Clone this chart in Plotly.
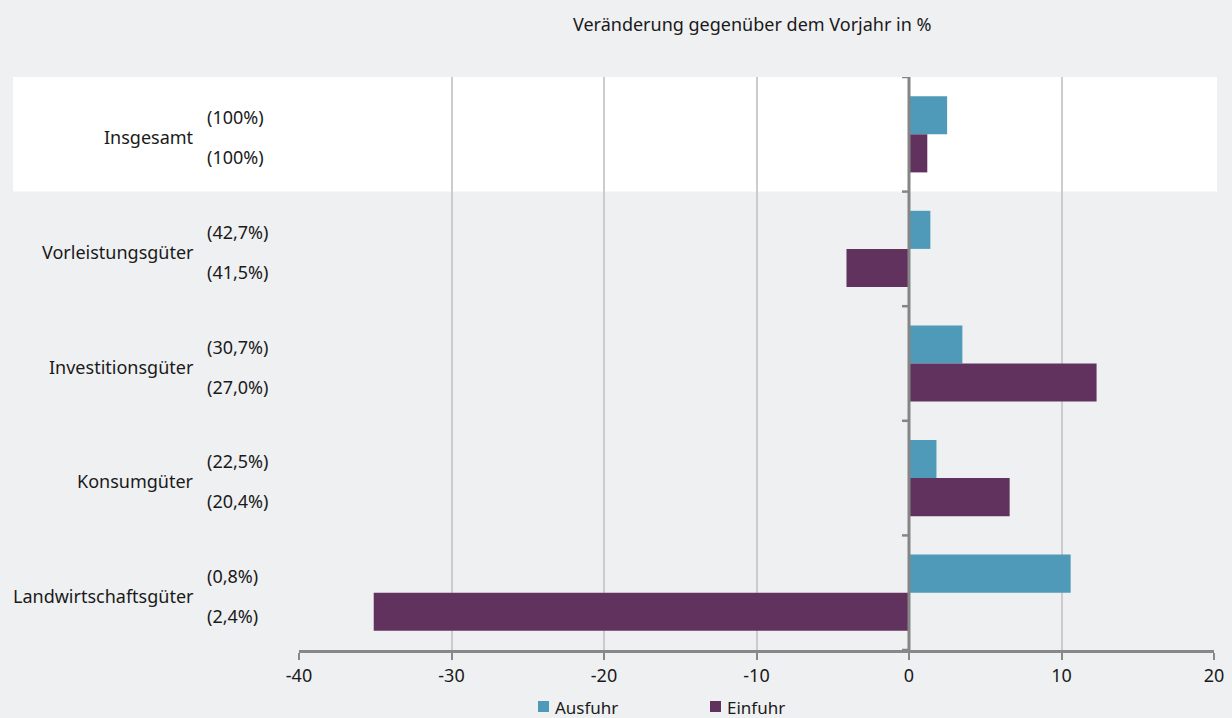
import plotly.graph_objects as go

categories = ["Insgesamt", "Vorleistungsgüter", "Investitionsgüter", "Konsumgüter", "Landwirtschaftsgüter"]
ausfuhr = [2.5, 1.4, 3.5, 1.8, 10.6]
einfuhr = [1.2, -4.1, 12.3, 6.6, -35.1]
anteil_ausfuhr = ["(100%)", "(42,7%)", "(30,7%)", "(22,5%)", "(0,8%)"]
anteil_einfuhr = ["(100%)", "(41,5%)", "(27,0%)", "(20,4%)", "(2,4%)"]
x_ticks = [-40, -30, -20, -10, 0, 10, 20]
series_names = ["Ausfuhr", "Einfuhr"]
title_text = "Veränderung gegenüber dem Vorjahr in %"

FONT = "Noto Sans"
FS = 18
BG = "#eff0f2"
C_AUS = "#4f9ab8"
C_EIN = "#62325e"
TXT = "#1a1a1a"

fig = go.Figure()
fig.add_trace(go.Bar(y=categories, x=ausfuhr, orientation="h", name=series_names[0],
                     marker=dict(color=C_AUS, line=dict(width=0))))
fig.add_trace(go.Bar(y=categories, x=einfuhr, orientation="h", name=series_names[1],
                     marker=dict(color=C_EIN, line=dict(width=0))))

L, R, T, B = 299, 18, 77, 68
W, H = 1232, 718
pw = W - L - R
ph = H - T - B

def px2paper(px):
    return (px - L) / pw

def py2paper(py):
    return (H - B - py) / ph

shapes = []
# white band behind first row
shapes.append(dict(type="rect", xref="paper", yref="y", x0=px2paper(13), x1=px2paper(1217),
                   y0=-0.5, y1=0.5, fillcolor="white", line=dict(width=0), layer="below"))
# zero line
shapes.append(dict(type="line", xref="x", yref="paper", x0=0, x1=0, y0=0, y1=1,
                   line=dict(color="#858585", width=3), layer="above"))
# ticks on zero line at category boundaries
for i in range(len(categories) + 1):
    shapes.append(dict(type="line", xref="x", yref="y", xsizemode="pixel", xanchor=0,
                       x0=-7, x1=0, y0=i - 0.5, y1=i - 0.5,
                       line=dict(color="#858585", width=2.5), layer="above"))

annotations = []
for i, c in enumerate(categories):
    annotations.append(dict(xref="paper", yref="y", x=px2paper(196), y=i, text=c,
                            showarrow=False, xanchor="right", yanchor="middle", yshift=-3,
                            font=dict(family=FONT, size=FS, color=TXT)))
    annotations.append(dict(xref="paper", yref="y", x=px2paper(205), y=i, text=anteil_ausfuhr[i],
                            showarrow=False, xanchor="left", yanchor="middle", yshift=17,
                            font=dict(family=FONT, size=FS, color=TXT)))
    annotations.append(dict(xref="paper", yref="y", x=px2paper(205), y=i, text=anteil_einfuhr[i],
                            showarrow=False, xanchor="left", yanchor="middle", yshift=-23,
                            font=dict(family=FONT, size=FS, color=TXT)))
annotations.append(dict(xref="paper", yref="paper", x=px2paper(752), y=py2paper(24),
                        text=title_text, showarrow=False, xanchor="center", yanchor="middle",
                        font=dict(family=FONT, size=FS, color=TXT)))

# legend (drawn manually to keep the plot area fixed)
legend_x = [538, 710]
for name, col, lx in zip(series_names, [C_AUS, C_EIN], legend_x):
    shapes.append(dict(type="rect", xref="paper", yref="paper",
                       x0=px2paper(lx), x1=px2paper(lx + 11), y0=py2paper(701), y1=py2paper(712),
                       fillcolor=col, line=dict(width=0)))
    annotations.append(dict(xref="paper", yref="paper", x=px2paper(lx + 15), y=py2paper(707),
                            text=name, showarrow=False, xanchor="left", yanchor="middle",
                            font=dict(family=FONT, size=17, color=TXT)))

fig.update_layout(
    width=W, height=H,
    margin=dict(l=L, r=R, t=T, b=B, autoexpand=False),
    paper_bgcolor=BG, plot_bgcolor=BG,
    barmode="group", bargap=0.335, bargroupgap=0,
    font=dict(family=FONT, size=FS, color=TXT),
    shapes=shapes, annotations=annotations,
    showlegend=False,
    xaxis=dict(range=[-40, 20], tickvals=x_ticks, ticktext=[str(v) for v in x_ticks],
               showgrid=True, gridcolor="#cccccc", gridwidth=2,
               zeroline=False, showline=True, linecolor="#888888", linewidth=3,
               ticks="outside", ticklen=7, tickcolor="#888888", tickwidth=2,
               tickfont=dict(family=FONT, size=FS, color=TXT), fixedrange=True,
               automargin=False),
    yaxis=dict(range=[4.5, -0.5], showticklabels=False, showgrid=False, zeroline=False,
               showline=False, fixedrange=True, automargin=False),
)

fig.write_html("out.html", config={"displayModeBar": False},
               post_script="document.body.style.margin='0';document.body.style.background='#eff0f2';")
